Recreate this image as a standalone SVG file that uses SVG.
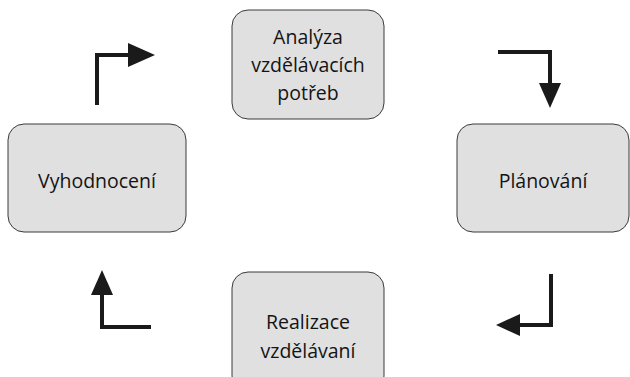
<svg xmlns="http://www.w3.org/2000/svg" width="630" height="377" viewBox="0 0 630 377">
<defs>
<style>
.box{fill:#e0e0e0;stroke:#3a3a3a;stroke-width:1}
.t{font-family:"Open Sans","Noto Sans",sans-serif;font-size:19.5px;fill:#141414;text-anchor:middle}
.ln{fill:none;stroke:#1a1a1a;stroke-width:4}
.hd{fill:#1a1a1a}
</style>
</defs>
<rect width="630" height="377" fill="#ffffff"/>
<g id="analyza">
<rect class="box" x="232" y="10" width="152" height="109" rx="16"/>
<text class="t" x="308" y="44">Analýza</text>
<text class="t" x="308" y="72">vzdělávacích</text>
<text class="t" x="308" y="100">potřeb</text>
</g>
<g id="planovani">
<rect class="box" x="457" y="124" width="172" height="108" rx="16"/>
<text class="t" x="543" y="188">Plánování</text>
</g>
<g id="realizace">
<rect class="box" x="232" y="272" width="152" height="120" rx="16"/>
<text class="t" x="308" y="329">Realizace</text>
<text class="t" x="308" y="358">vzdělávaní</text>
</g>
<g id="vyhodnoceni">
<rect class="box" x="8" y="124" width="178" height="108" rx="16"/>
<text class="t" x="97" y="188">Vyhodnocení</text>
</g>
<g id="connectors">
<path class="ln" d="M97 105 V55 H130"/>
<polygon class="hd" points="128,43 155,55 128,67"/>
<path class="ln" d="M498 52 H550 V85"/>
<polygon class="hd" points="539,83 561,83 550,108"/>
<path class="ln" d="M551 274 V325 H518"/>
<polygon class="hd" points="520,314 520,336 496,325"/>
<path class="ln" d="M151 327 H102 V293"/>
<polygon class="hd" points="91,295 113,295 102,270"/>
</g>
</svg>
